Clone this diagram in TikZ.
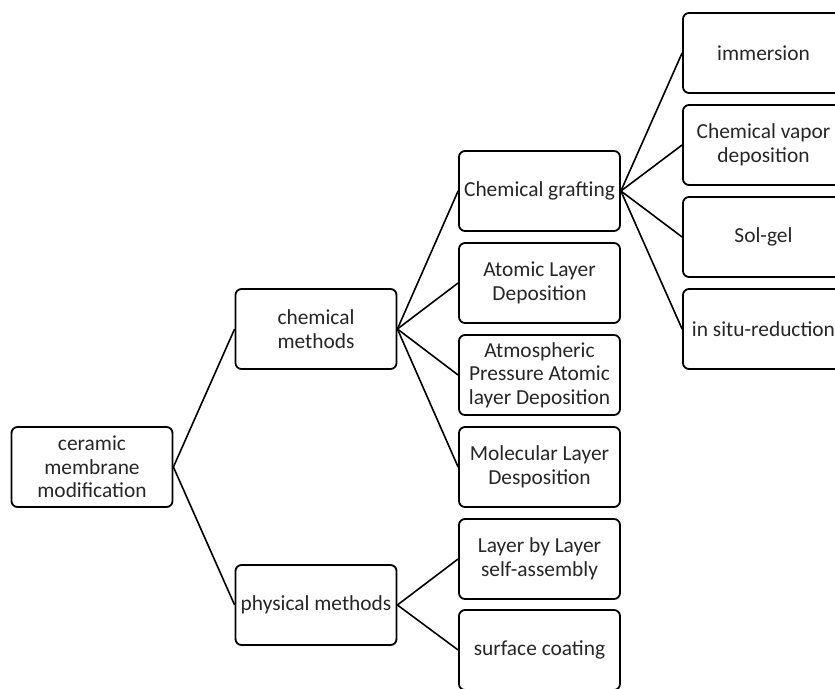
\documentclass[tikz,border=0pt]{standalone}
\usepackage{fontspec}
\setmainfont{Carlito}
\begin{document}
\begin{tikzpicture}[x=1bp,y=-1bp,
  box/.style={draw=black, line width=1.8bp, rounded corners=6bp, minimum width=161bp, minimum height=80bp,
    inner sep=1bp, align=center, font=\fontsize{21.4bp}{23.6bp}\selectfont, text=black!85},
  link/.style={draw=black, line width=1.6bp}]
\useasboundingbox (0,0) rectangle (835,689);
\clip (0,0) rectangle (835,689);
\node[box] (root) at (92,467) {ceramic\\membrane\\modification};
\node[box] (chem) at (316,329) {chemical\\methods};
\node[box] (phys) at (316,605) {physical methods};
\node[box] (graft) at (539.5,191) {Chemical grafting};
\node[box] (ald) at (539.5,283) {Atomic Layer\\Deposition};
\node[box] (apald) at (539.5,375) {Atmospheric\\Pressure Atomic\\layer Deposition};
\node[box] (mld) at (539.5,467) {Molecular Layer\\Desposition};
\node[box] (lbl) at (539.5,559) {Layer by Layer\\self-assembly};
\node[box] (coat) at (539.5,650) {surface coating};
\node[box] (imm) at (763.5,53) {immersion};
\node[box] (cvd) at (763.5,145) {Chemical vapor\\deposition};
\node[box] (sol) at (763.5,237) {Sol-gel};
\node[box] (insitu) at (763.5,329) {in situ-reduction};
\foreach \a/\b in {root/chem,root/phys,chem/graft,chem/ald,chem/apald,chem/mld,phys/lbl,phys/coat,graft/imm,graft/cvd,graft/sol,graft/insitu}
  \draw[link] (\a.east) -- (\b.west);
\end{tikzpicture}
\end{document}
